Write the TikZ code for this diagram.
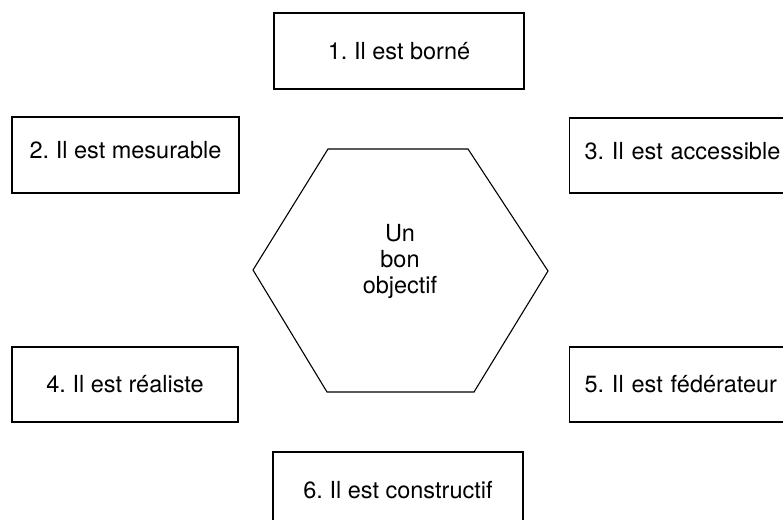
\documentclass[tikz,border=0pt]{standalone}
\usepackage{fontspec}
\setmainfont{TeX Gyre Heros}
\frenchspacing
\begin{document}
\begin{tikzpicture}[x=1pt, y=1pt, line width=1.1pt,
  txt/.style={font=\fontsize{23.5}{26}\selectfont},
  card/.style={txt, draw, rectangle, inner sep=0pt, text height=17pt, text depth=0pt},
  raised/.style={text depth=9pt},
  sidecard/.style={card, anchor=west, inner xsep=15pt, text width=220pt, align=left}]
  % page frame
  \clip (0,0) rectangle (783,519);
  \fill[white] (0,0) rectangle (783,519);

  % the six qualities
  \node[card, minimum width=250pt, minimum height=76pt] (q1) at (399,468) {1. Il est borné};
  \node[card, raised, minimum width=227pt, minimum height=76pt] (q2) at (125.5,364) {2. Il est mesurable};
  \node[sidecard, raised, minimum height=75pt] (q3) at (569,363.5) {3. Il est accessible};
  \node[card, minimum width=226pt, minimum height=75pt] (q4) at (125,134.5) {4. Il est réaliste};
  \node[sidecard, minimum height=75pt] (q5) at (569,134.5) {5. Il est fédérateur};
  \node[card, minimum width=250pt, minimum height=75pt] (q6) at (398,29.5) {6. Il est constructif};

  % central hexagon
  \coordinate (hTL) at (328,370);
  \coordinate (hTR) at (468,370);
  \coordinate (hR)  at (548,248);
  \coordinate (hBR) at (474,127);
  \coordinate (hBL) at (327,127);
  \coordinate (hL)  at (253,249);
  \draw[line join=miter] (hTL) -- (hTR) -- (hR) -- (hBR) -- (hBL) -- (hL) -- cycle;
  \node[txt, align=center, inner sep=0pt] (goal) at (400,258) {Un\\bon\\objectif};
\end{tikzpicture}
\end{document}
